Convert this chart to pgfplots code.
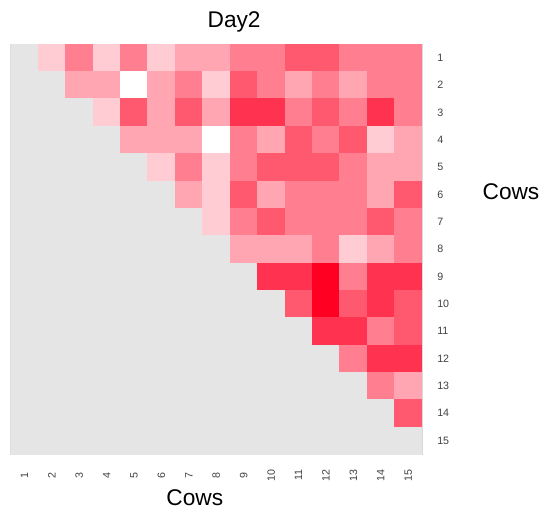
\documentclass[border=0pt]{standalone}
\usepackage{pgfplots}
\pgfplotsset{compat=1.18}
\usepackage{fontspec}
\setmainfont{Liberation Sans}
\begin{document}
\begin{tikzpicture}
\useasboundingbox (-8pt,-42pt) rectangle (396.75pt,340.5pt);
\begin{axis}[at={(0,0)}, anchor=south west, scale only axis,
  width=308.25pt, height=307.5pt,
  xmin=0.5, xmax=15.5, ymin=0.5, ymax=15.5,
  xtick={1,...,15}, xticklabels={1,2,3,4,5,6,7,8,9,10,11,12,13,14,15},
  ytick={1,...,15}, yticklabels={15,14,13,12,11,10,9,8,7,6,5,4,3,2,1},
  yticklabel pos=right,
  major tick length=0pt,
  /pgf/number format/assume math mode=true,
  tick label style={font=\fontsize{8}{9}\selectfont, text=black!75},
  xticklabel style={rotate=90, anchor=center},
  xticklabel shift=15.75pt,
  yticklabel style={anchor=west, xshift=8pt},
  axis line style={draw=black!15},
  colormap={dg}{rgb255(0pt)=(229,229,229) rgb255(90pt)=(229,229,229) rgb255(100pt)=(255,255,255) rgb255(200pt)=(255,0,35)},
  point meta min=-1, point meta max=1,
]
\addplot[matrix plot*, mesh/cols=15, point meta=explicit] table[row sep=\\, meta=c] {
x y c\\
1 15 -1\\ 2 15 .2\\ 3 15 .5\\ 4 15 .2\\ 5 15 .5\\ 6 15 .2\\ 7 15 .35\\ 8 15 .35\\ 9 15 .5\\ 10 15 .5\\ 11 15 .65\\ 12 15 .65\\ 13 15 .5\\ 14 15 .5\\ 15 15 .5\\
1 14 -1\\ 2 14 -1\\ 3 14 .35\\ 4 14 .35\\ 5 14 0\\ 6 14 .35\\ 7 14 .5\\ 8 14 .2\\ 9 14 .65\\ 10 14 .5\\ 11 14 .35\\ 12 14 .5\\ 13 14 .35\\ 14 14 .5\\ 15 14 .5\\
1 13 -1\\ 2 13 -1\\ 3 13 -1\\ 4 13 .2\\ 5 13 .65\\ 6 13 .35\\ 7 13 .65\\ 8 13 .35\\ 9 13 .8\\ 10 13 .8\\ 11 13 .5\\ 12 13 .65\\ 13 13 .5\\ 14 13 .8\\ 15 13 .5\\
1 12 -1\\ 2 12 -1\\ 3 12 -1\\ 4 12 -1\\ 5 12 .35\\ 6 12 .35\\ 7 12 .35\\ 8 12 0\\ 9 12 .5\\ 10 12 .35\\ 11 12 .65\\ 12 12 .5\\ 13 12 .65\\ 14 12 .2\\ 15 12 .35\\
1 11 -1\\ 2 11 -1\\ 3 11 -1\\ 4 11 -1\\ 5 11 -1\\ 6 11 .2\\ 7 11 .5\\ 8 11 .2\\ 9 11 .5\\ 10 11 .65\\ 11 11 .65\\ 12 11 .65\\ 13 11 .5\\ 14 11 .35\\ 15 11 .35\\
1 10 -1\\ 2 10 -1\\ 3 10 -1\\ 4 10 -1\\ 5 10 -1\\ 6 10 -1\\ 7 10 .35\\ 8 10 .2\\ 9 10 .65\\ 10 10 .35\\ 11 10 .5\\ 12 10 .5\\ 13 10 .5\\ 14 10 .35\\ 15 10 .65\\
1 9 -1\\ 2 9 -1\\ 3 9 -1\\ 4 9 -1\\ 5 9 -1\\ 6 9 -1\\ 7 9 -1\\ 8 9 .2\\ 9 9 .5\\ 10 9 .65\\ 11 9 .5\\ 12 9 .5\\ 13 9 .5\\ 14 9 .65\\ 15 9 .5\\
1 8 -1\\ 2 8 -1\\ 3 8 -1\\ 4 8 -1\\ 5 8 -1\\ 6 8 -1\\ 7 8 -1\\ 8 8 -1\\ 9 8 .35\\ 10 8 .35\\ 11 8 .35\\ 12 8 .5\\ 13 8 .2\\ 14 8 .35\\ 15 8 .5\\
1 7 -1\\ 2 7 -1\\ 3 7 -1\\ 4 7 -1\\ 5 7 -1\\ 6 7 -1\\ 7 7 -1\\ 8 7 -1\\ 9 7 -1\\ 10 7 .8\\ 11 7 .8\\ 12 7 1\\ 13 7 .5\\ 14 7 .8\\ 15 7 .8\\
1 6 -1\\ 2 6 -1\\ 3 6 -1\\ 4 6 -1\\ 5 6 -1\\ 6 6 -1\\ 7 6 -1\\ 8 6 -1\\ 9 6 -1\\ 10 6 -1\\ 11 6 .65\\ 12 6 1\\ 13 6 .65\\ 14 6 .8\\ 15 6 .65\\
1 5 -1\\ 2 5 -1\\ 3 5 -1\\ 4 5 -1\\ 5 5 -1\\ 6 5 -1\\ 7 5 -1\\ 8 5 -1\\ 9 5 -1\\ 10 5 -1\\ 11 5 -1\\ 12 5 .8\\ 13 5 .8\\ 14 5 .5\\ 15 5 .65\\
1 4 -1\\ 2 4 -1\\ 3 4 -1\\ 4 4 -1\\ 5 4 -1\\ 6 4 -1\\ 7 4 -1\\ 8 4 -1\\ 9 4 -1\\ 10 4 -1\\ 11 4 -1\\ 12 4 -1\\ 13 4 .5\\ 14 4 .8\\ 15 4 .8\\
1 3 -1\\ 2 3 -1\\ 3 3 -1\\ 4 3 -1\\ 5 3 -1\\ 6 3 -1\\ 7 3 -1\\ 8 3 -1\\ 9 3 -1\\ 10 3 -1\\ 11 3 -1\\ 12 3 -1\\ 13 3 -1\\ 14 3 .5\\ 15 3 .35\\
1 2 -1\\ 2 2 -1\\ 3 2 -1\\ 4 2 -1\\ 5 2 -1\\ 6 2 -1\\ 7 2 -1\\ 8 2 -1\\ 9 2 -1\\ 10 2 -1\\ 11 2 -1\\ 12 2 -1\\ 13 2 -1\\ 14 2 -1\\ 15 2 .65\\
1 1 -1\\ 2 1 -1\\ 3 1 -1\\ 4 1 -1\\ 5 1 -1\\ 6 1 -1\\ 7 1 -1\\ 8 1 -1\\ 9 1 -1\\ 10 1 -1\\ 11 1 -1\\ 12 1 -1\\ 13 1 -1\\ 14 1 -1\\ 15 1 -1\\
};
\end{axis}
\node[anchor=base] at (167.5pt,320.25pt) {\fontsize{17}{20}\selectfont Day2};
\node[anchor=base] at (375pt,191.25pt) {\fontsize{17}{20}\selectfont Cows};
\node[anchor=base] at (138pt,-38.25pt) {\fontsize{17}{20}\selectfont Cows};
\end{tikzpicture}
\end{document}
